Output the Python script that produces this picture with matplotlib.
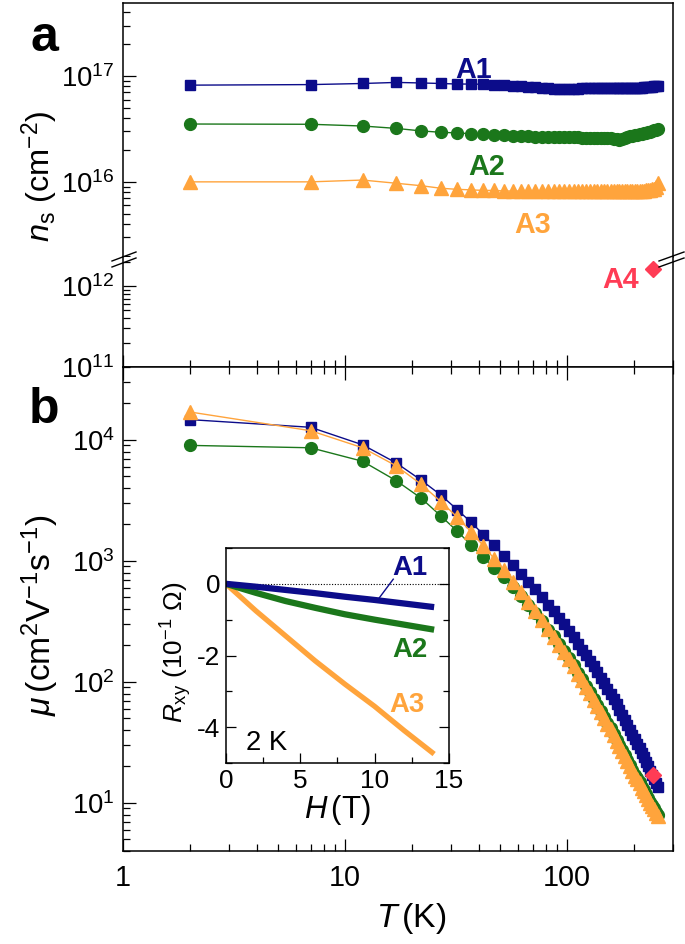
import matplotlib
matplotlib.use('Agg')
import matplotlib.pyplot as plt
from matplotlib import font_manager
from matplotlib.lines import Line2D
from matplotlib.ticker import LogLocator, NullFormatter, FuncFormatter, MultipleLocator

names = {f.name for f in font_manager.fontManager.ttflist}
FONT = 'Liberation Sans Narrow' if 'Liberation Sans Narrow' in names else 'Liberation Sans'
NARROW = FONT.endswith('Narrow')
k = 1.0 if NARROW else 0.9   # shrink text a little when no condensed face exists

plt.rcParams['font.family'] = FONT
plt.rcParams['mathtext.fontset'] = 'custom'
plt.rcParams['mathtext.rm'] = FONT
plt.rcParams['mathtext.it'] = FONT + ':italic'
plt.rcParams['mathtext.bf'] = FONT + ':bold'
plt.rcParams['axes.unicode_minus'] = False

# ---- data ----
T_K = [2, 7, 12, 17, 22, 27, 32, 37, 42, 47,
       52, 57, 62, 67, 72, 77, 82, 87, 92, 97,
       102, 107, 112, 117, 122, 127, 132, 137, 142, 147,
       152, 157, 162, 167, 172, 177, 182, 187, 192, 197,
       202, 207, 212, 217, 222, 227, 232, 237, 242, 247,
       252, 257]

# sheet carrier density, units of 1e16 cm^-2
ns_A1 = [8.2, 8.3, 8.5, 8.7, 8.6, 8.5, 8.4, 8.4, 8.35, 8.3,
         8.2, 8.1, 8.0, 7.9, 7.8, 7.75, 7.7, 7.6, 7.55, 7.5,
         7.5, 7.55, 7.6, 7.65, 7.65, 7.65, 7.65, 7.65, 7.65, 7.65,
         7.65, 7.65, 7.65, 7.65, 7.65, 7.65, 7.65, 7.65, 7.7, 7.7,
         7.7, 7.75, 7.75, 7.75, 7.8, 7.8, 7.85, 7.9, 7.95, 8.0,
         8.05, 8.1]
ns_A2 = [3.52, 3.5, 3.37, 3.2, 3.03, 2.94, 2.9, 2.85, 2.82, 2.78,
         2.75, 2.73, 2.71, 2.69, 2.68, 2.67, 2.66, 2.65, 2.65, 2.64,
         2.64, 2.63, 2.63, 2.62, 2.62, 2.62, 2.61, 2.61, 2.6, 2.6,
         2.59, 2.57, 2.55, 2.52, 2.5, 2.55, 2.6, 2.66, 2.7, 2.74,
         2.77, 2.8, 2.83, 2.86, 2.89, 2.92, 2.95, 2.98, 3.02, 3.06,
         3.1, 3.14]
ns_A3 = [1.0, 1.0, 1.04, 0.97, 0.92, 0.87, 0.85, 0.84, 0.83, 0.83,
         0.82, 0.82, 0.82, 0.82, 0.82, 0.82, 0.82, 0.82, 0.82, 0.82,
         0.82, 0.82, 0.82, 0.82, 0.82, 0.82, 0.82, 0.82, 0.82, 0.82,
         0.82, 0.82, 0.82, 0.82, 0.82, 0.82, 0.82, 0.82, 0.82, 0.82,
         0.82, 0.82, 0.82, 0.82, 0.82, 0.83, 0.83, 0.84, 0.85, 0.86,
         0.89, 0.97]
T_A4 = [245]
ns_A4 = [1.65e12]

# mobility, cm^2 V^-1 s^-1
mu_A1 = [14700, 12700, 9100, 6450, 4650, 3500, 2650, 2080, 1650, 1340,
         1100, 918, 778, 667, 580, 500, 435, 382, 337, 300,
         264, 233, 207, 185, 166, 150, 134, 120, 108, 97,
         88, 80, 72, 65, 58.6, 53.1, 48.3, 44, 40.1, 36.6,
         33.5, 30.7, 28.2, 26, 23.8, 21.8, 20.0, 18.5, 17, 15.7,
         14.5, 13.5]
mu_A2 = [9000, 8600, 6650, 4600, 3300, 2350, 1760, 1350, 1070, 870,
         730, 610, 515, 435, 370, 316, 270, 240, 207, 181,
         157, 137, 119, 105, 93.2, 82.2, 72.4, 64.2, 57.6, 51.4,
         46.0, 41.8, 37.1, 33.2, 30.0, 27.1, 24.7, 22.5, 20.5, 18.7,
         17.1, 15.9, 14.8, 13.6, 12.8, 11.8, 11.0, 10.2, 9.53, 9.02,
         8.45, 7.93]
mu_A3 = [17000, 11900, 8600, 6100, 4300, 3090, 2300, 1730, 1330, 1040,
         834, 673, 551, 456, 383, 323, 274, 235, 203, 177,
         154, 134, 117, 103, 91.4, 80.6, 71.0, 62.9, 56.5, 50.4,
         45.1, 41.0, 36.4, 32.5, 29.4, 26.6, 24.2, 22.1, 20.1, 18.3,
         16.8, 15.6, 14.5, 13.3, 12.5, 11.6, 10.8, 10.0, 9.34, 8.84,
         8.28, 7.77]
mu_A4 = [17]

# inset: Hall resistance at 2 K, units of 1e-1 Ohm
H_T = [0, 2, 4, 6, 8, 10, 12, 14]
Rxy_A1 = [0, -0.08, -0.17, -0.26, -0.36, -0.45, -0.55, -0.65]
Rxy_A2 = [0, -0.25, -0.48, -0.67, -0.85, -1.0, -1.14, -1.28]
Rxy_A3 = [0, -0.75, -1.45, -2.15, -2.8, -3.42, -4.1, -4.75]

C1 = '#0c0c8a'
C2 = '#1b771b'
C3 = '#ffa43c'
C4 = '#ff3c55'

W_PX, H_PX = 685, 944
fig = plt.figure(figsize=(W_PX / 100, H_PX / 100), dpi=100)


def rect(x0, y0, x1, y1):
    return [x0 / W_PX, 1 - y1 / H_PX, (x1 - x0) / W_PX, (y1 - y0) / H_PX]


ax_hi = fig.add_axes(rect(123, 3, 673, 257))
ax_lo = fig.add_axes(rect(123, 257, 673, 367))
ax_b = fig.add_axes(rect(123, 367, 673, 851))
ax_in = fig.add_axes(rect(226, 548, 449, 763))

TICK = 22 * k
for ax in (ax_hi, ax_lo, ax_b):
    ax.set_xscale('log')
    ax.set_yscale('log')
    ax.set_xlim(1, 300)
    for s in ax.spines.values():
        s.set_linewidth(1.1)
    ax.tick_params(which='both', direction='in', width=0.9, labelsize=TICK, pad=6)
    ax.tick_params(which='major', length=9)
    ax.tick_params(which='minor', length=4.7)
    ax.yaxis.set_major_locator(LogLocator(base=10, numticks=20))
    ax.yaxis.set_minor_locator(LogLocator(base=10, subs=range(2, 10), numticks=20))
    ax.yaxis.set_minor_formatter(NullFormatter())
    ax.xaxis.set_minor_formatter(NullFormatter())

# top panel, upper segment
ax_hi.set_ylim(10 ** 15.29, 10 ** 17.69)
ax_hi.spines['bottom'].set_visible(False)
ax_hi.tick_params(which='both', bottom=False, top=False, labelbottom=False,
                  left=True, right=False)
# top panel, lower segment
ax_lo.set_ylim(1e11, 10 ** 12.36)
ax_lo.spines['top'].set_visible(False)
ax_lo.tick_params(which='both', bottom=True, top=False, labelbottom=False,
                  left=True, right=False)
# bottom panel
ax_b.set_ylim(4, 4e4)
ax_b.tick_params(which='both', bottom=True, top=True, labelbottom=True,
                 left=True, right=False)
ax_b.xaxis.set_major_formatter(FuncFormatter(lambda v, p: f'{v:g}'))
ax_b.tick_params(axis='x', pad=9, labelsize=23 * k)

ns_scale = 1e16
ax_hi.plot(T_K, [v * ns_scale for v in ns_A1], '-s', color=C1, ms=7, lw=1, mec=C1)
ax_hi.plot(T_K, [v * ns_scale for v in ns_A2], '-o', color=C2, ms=8.5, lw=1, mec=C2)
ax_hi.plot(T_K, [v * ns_scale for v in ns_A3], '-^', color=C3, ms=10, lw=1, mec=C3)
ax_lo.plot(T_A4, ns_A4, 'D', color=C4, ms=8.5, mec=C4, clip_on=False)

ax_b.plot(T_K, mu_A1, '-s', color=C1, ms=7, lw=1, mec=C1)
ax_b.plot(T_K, mu_A2, '-o', color=C2, ms=8.5, lw=1, mec=C2)
ax_b.plot(T_K, mu_A3, '-^', color=C3, ms=10, lw=1, mec=C3, clip_on=False)
ax_b.plot(T_A4, mu_A4, 'D', color=C4, ms=8.5, mec=C4)

# inset
ax_in.plot(H_T, Rxy_A3, color=C3, lw=3.8, solid_capstyle='butt')
ax_in.plot(H_T, Rxy_A2, color=C2, lw=4.5, solid_capstyle='butt')
ax_in.plot(H_T, Rxy_A1, color=C1, lw=4.5, solid_capstyle='butt')
ax_in.axhline(0, color='black', lw=0.8, ls=(0, (1, 1.5)), zorder=0)
ax_in.set_xlim(0, 15)
ax_in.set_ylim(-5, 1)
ax_in.xaxis.set_major_locator(MultipleLocator(5))
ax_in.xaxis.set_minor_locator(MultipleLocator(2.5))
ax_in.yaxis.set_major_locator(MultipleLocator(2))
ax_in.yaxis.set_minor_locator(MultipleLocator(1))
ax_in.yaxis.set_major_formatter(FuncFormatter(lambda v, p: f'{v:g}'))
ax_in.tick_params(which='both', direction='in', width=0.9, labelsize=21 * k,
                  left=True, right=True, top=False, bottom=True, pad=4)
ax_in.tick_params(which='major', length=7)
ax_in.tick_params(which='minor', length=4)
for s in ax_in.spines.values():
    s.set_linewidth(1.1)
ax_in.text(12.4, 0.44, 'A1', color=C1, fontsize=22 * k, fontweight='bold',
           ha='center', va='center')
ax_in.text(12.4, -1.84, 'A2', color=C2, fontsize=22 * k, fontweight='bold',
           ha='center', va='center')
ax_in.text(12.2, -3.38, 'A3', color=C3, fontsize=22 * k, fontweight='bold',
           ha='center', va='center')
ax_in.text(2.7, -4.44, '2 K', color='black', fontsize=22 * k, ha='center', va='center')
ax_in.plot([11.25, 10.24], [0.13, -0.43], color=C1, lw=1)


def ftext(x, y, s, **kw):
    fig.text(x / W_PX, 1 - y / H_PX, s, ha='center', va='center', **kw)


# labels
ftext(40, 176, r'$n_\mathrm{s}$ (cm$^{-2}$)', fontsize=26 * k, rotation=90)
ftext(40, 615, r'$\mu\,$(cm$^{2}$V$^{-1}$s$^{-1}$)', fontsize=27 * k, rotation=90)
ftext(411, 918, r'$T\,$(K)', fontsize=27 * k)
ftext(176, 652, r'$R_\mathrm{xy}$ (10$^{-1}$ $\Omega$)', fontsize=21 * k, rotation=90)
ftext(337, 810, r'$H\,$(T)', fontsize=25 * k)
ftext(44, 38, 'a', fontsize=36, fontweight='bold')
ftext(44, 410, 'b', fontsize=36, fontweight='bold')
ftext(474, 70, 'A1', color=C1, fontsize=23 * k, fontweight='bold')
ftext(487, 167, 'A2', color=C2, fontsize=23 * k, fontweight='bold')
ftext(533, 225, 'A3', color=C3, fontsize=23 * k, fontweight='bold')
ftext(621, 280, 'A4', color=C4, fontsize=23 * k, fontweight='bold')

# axis break marks
for x0, x1 in ((112, 136), (659, 684)):
    for dy in (0, 6):
        fig.add_artist(Line2D([x0 / W_PX, x1 / W_PX],
                              [1 - (261 + dy) / H_PX, 1 - (252 + dy) / H_PX],
                              color='black', lw=1))

fig.savefig('out.png', dpi=100)
